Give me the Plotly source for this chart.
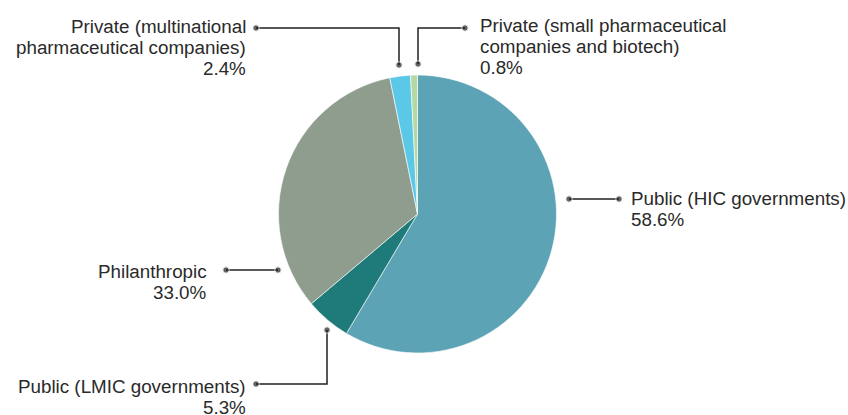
import plotly.graph_objects as go

# Funding sources and their shares (%)
sources = [
    "Public (HIC governments)",
    "Public (LMIC governments)",
    "Philanthropic",
    "Private (multinational<br>pharmaceutical companies)",
    "Private (small pharmaceutical<br>companies and biotech)",
]
shares = [58.6, 5.3, 33.0, 2.4, 0.8]
colors = ["#5ca3b5", "#1e7b7a", "#8f9d8f", "#5cc8e8", "#b6d9a4"]

W, H = 848, 415

# Callout geometry in pixel space: leader path, text anchor, first line centre, alignment
callouts = [
    dict(path=[(569, 199), (619, 199)], tx=630, ty=198, side="left"),
    dict(path=[(327, 330), (327, 384), (256, 384)], tx=247, ty=386, side="right"),
    dict(path=[(278, 270), (226, 270)], tx=208, ty=271, side="right"),
    dict(path=[(399, 65), (399, 28), (256, 28)], tx=247, ty=26, side="right"),
    dict(path=[(418, 64), (418, 28), (465, 28)], tx=479, ty=25.5, side="left"),
]
LINE_GAP = 21
FONT = dict(family="Liberation Sans, Arial, sans-serif", size=18.8, color="#2a2a2a")
LINE_COLOR = "#231f20"

fig = go.Figure()

fig.add_trace(go.Pie(
    labels=sources,
    values=shares,
    sort=False,
    direction="clockwise",
    rotation=0,
    marker=dict(colors=colors, line=dict(color="white", width=0.6)),
    textinfo="none",
    hoverinfo="skip",
    showlegend=False,
    domain=dict(x=[278 / W, 557 / W], y=[(H - 353) / H, (H - 75) / H]),
))

for src, val, c in zip(sources, shares, callouts):
    xs = [p[0] for p in c["path"]]
    ys = [p[1] for p in c["path"]]
    sizes = [0] * len(xs)
    sizes[0] = 6.5
    sizes[-1] = 6.5
    fig.add_trace(go.Scatter(
        x=xs, y=ys, mode="lines+markers",
        line=dict(color=LINE_COLOR, width=1.5),
        marker=dict(size=sizes, color=LINE_COLOR),
        hoverinfo="skip", showlegend=False,
    ))
    lines = src.split("<br>") + [f"{val:.1f}%"]
    for i, txt in enumerate(lines):
        fig.add_annotation(
            x=c["tx"], y=c["ty"] + i * LINE_GAP, xref="x", yref="y",
            text=txt,
            showarrow=False,
            xanchor="right" if c["side"] == "right" else "left",
            yanchor="middle",
            font=FONT,
            borderpad=0,
        )

fig.update_layout(
    width=W, height=H,
    margin=dict(l=0, r=0, t=0, b=0),
    paper_bgcolor="white",
    plot_bgcolor="white",
    xaxis=dict(range=[0, W], visible=False, fixedrange=True),
    yaxis=dict(range=[H, 0], visible=False, fixedrange=True),
)

fig.write_html("out.html", config={"displayModeBar": False})
